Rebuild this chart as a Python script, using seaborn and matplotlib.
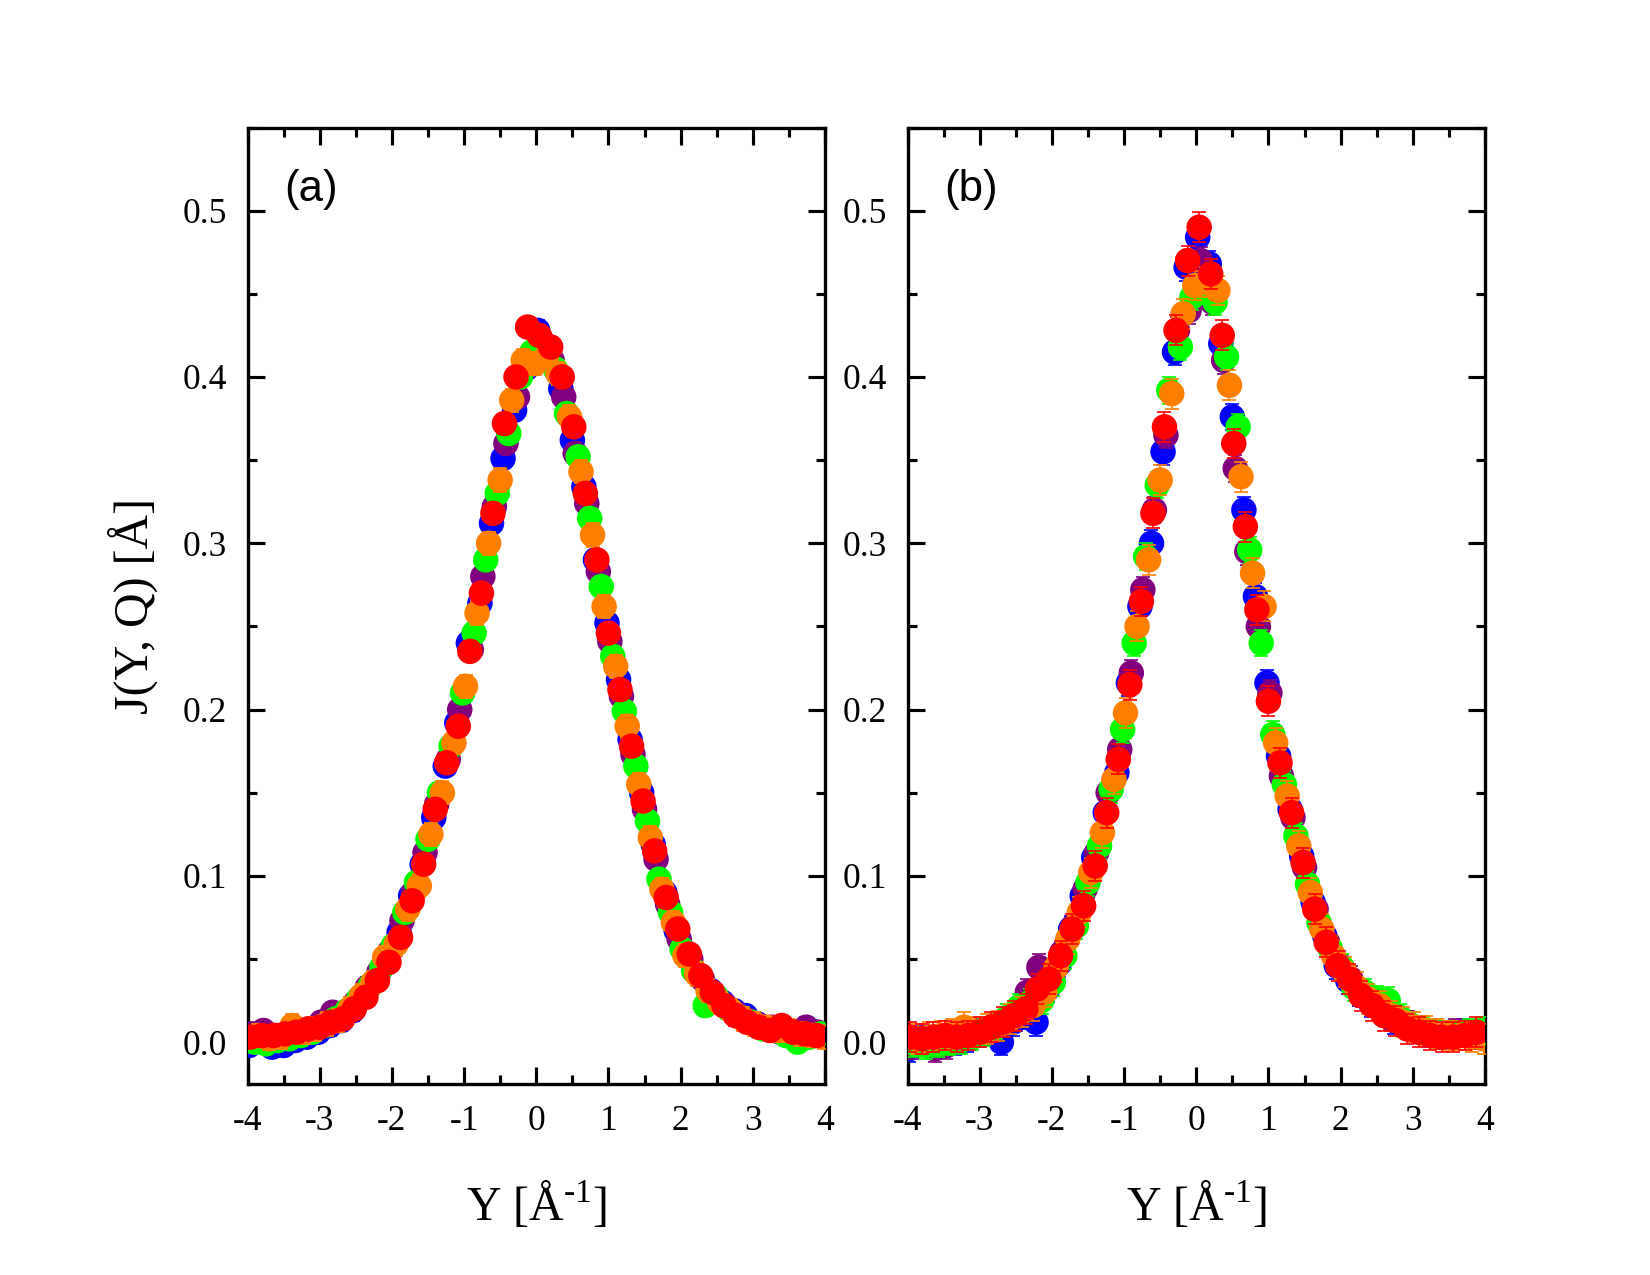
import numpy as np
import pandas as pd
import matplotlib
matplotlib.use("Agg")
import matplotlib.pyplot as plt
from matplotlib.ticker import MultipleLocator, FormatStrFormatter
import seaborn as sns

# series order / colours (red drawn last, on top)
series_names = ["blue", "purple", "green", "orange", "red"]
series_colors = ["#0000FF", "#800080", "#00FF00", "#FF8000", "#FF0000"]

# Y grids of the five series (same in both panels)
x_blue = [-3.98, -3.82, -3.66, -3.50, -3.34, -3.18, -3.02, -2.86, -2.70, -2.54,
          -2.38, -2.22, -2.06, -1.90, -1.74, -1.58, -1.42, -1.26, -1.10, -0.94,
          -0.78, -0.62, -0.46, -0.30, -0.14, 0.02, 0.18, 0.34, 0.50, 0.66,
          0.82, 0.98, 1.14, 1.30, 1.46, 1.62, 1.78, 1.94, 2.10, 2.26,
          2.42, 2.58, 2.74, 2.90, 3.06, 3.22, 3.38, 3.54, 3.70, 3.86]
x_purple = [-3.94, -3.78, -3.62, -3.46, -3.30, -3.14, -2.98, -2.82, -2.66, -2.50,
            -2.34, -2.18, -2.02, -1.86, -1.70, -1.54, -1.38, -1.22, -1.06, -0.90,
            -0.74, -0.58, -0.42, -0.26, -0.10, 0.06, 0.22, 0.38, 0.54, 0.70,
            0.86, 1.02, 1.18, 1.34, 1.50, 1.66, 1.82, 1.98, 2.14, 2.30,
            2.46, 2.62, 2.78, 2.94, 3.10, 3.26, 3.42, 3.58, 3.74, 3.90]
x_green = [-3.90, -3.74, -3.58, -3.42, -3.26, -3.10, -2.94, -2.78, -2.62, -2.46,
           -2.30, -2.14, -1.98, -1.82, -1.66, -1.50, -1.34, -1.18, -1.02, -0.86,
           -0.70, -0.54, -0.38, -0.22, -0.06, 0.10, 0.26, 0.42, 0.58, 0.74,
           0.90, 1.06, 1.22, 1.38, 1.54, 1.70, 1.86, 2.02, 2.18, 2.34,
           2.50, 2.66, 2.82, 2.98, 3.14, 3.30, 3.46, 3.62, 3.78, 3.94]
x_orange = [-3.86, -3.70, -3.54, -3.38, -3.22, -3.06, -2.90, -2.74, -2.58, -2.42,
            -2.26, -2.10, -1.94, -1.78, -1.62, -1.46, -1.30, -1.14, -0.98, -0.82,
            -0.66, -0.50, -0.34, -0.18, -0.02, 0.14, 0.30, 0.46, 0.62, 0.78,
            0.94, 1.10, 1.26, 1.42, 1.58, 1.74, 1.90, 2.06, 2.22, 2.38,
            2.54, 2.70, 2.86, 3.02, 3.18, 3.34, 3.50, 3.66, 3.82, 3.98]
x_red = [-3.96, -3.80, -3.64, -3.48, -3.32, -3.16, -3.00, -2.84, -2.68, -2.52,
         -2.36, -2.20, -2.04, -1.88, -1.72, -1.56, -1.40, -1.24, -1.08, -0.92,
         -0.76, -0.60, -0.44, -0.28, -0.12, 0.04, 0.20, 0.36, 0.52, 0.68,
         0.84, 1.00, 1.16, 1.32, 1.48, 1.64, 1.80, 1.96, 2.12, 2.28,
         2.44, 2.60, 2.76, 2.92, 3.08, 3.24, 3.40, 3.56, 3.72, 3.88]

# panel (a) J(Y,Q)
ja_blue = [-0.002, 0.001, -0.003, -0.002, 0.001, 0.003, 0.006, 0.010, 0.013, 0.019,
           0.028, 0.037, 0.048, 0.066, 0.088, 0.107, 0.135, 0.166, 0.192, 0.240,
           0.264, 0.312, 0.351, 0.380, 0.405, 0.428, 0.415, 0.393, 0.362, 0.334,
           0.290, 0.252, 0.218, 0.182, 0.150, 0.119, 0.090, 0.067, 0.052, 0.040,
           0.031, 0.024, 0.019, 0.016, 0.011, 0.008, 0.006, 0.005, 0.007, 0.006]
ja_purple = [0.005, 0.007, 0.004, 0.003, 0.005, 0.008, 0.012, 0.018, 0.017, 0.024,
             0.033, 0.042, 0.055, 0.073, 0.090, 0.114, 0.143, 0.170, 0.200, 0.236,
             0.280, 0.322, 0.360, 0.388, 0.412, 0.423, 0.410, 0.388, 0.354, 0.324,
             0.283, 0.241, 0.208, 0.173, 0.140, 0.110, 0.083, 0.062, 0.050, 0.038,
             0.029, 0.022, 0.017, 0.013, 0.010, 0.009, 0.008, 0.005, 0.009, 0.006]
ja_green = [0.000, -0.001, 0.001, 0.002, 0.004, 0.006, 0.010, 0.014, 0.019, 0.026,
            0.034, 0.045, 0.058, 0.078, 0.096, 0.122, 0.150, 0.178, 0.210, 0.246,
            0.290, 0.330, 0.366, 0.400, 0.415, 0.410, 0.405, 0.378, 0.352, 0.315,
            0.274, 0.232, 0.199, 0.166, 0.133, 0.098, 0.078, 0.056, 0.043, 0.022,
            0.027, 0.020, 0.015, 0.012, 0.008, 0.007, 0.004, 0.000, 0.003, 0.005]
ja_orange = [0.004, 0.002, 0.003, 0.010, 0.006, 0.008, 0.011, 0.013, 0.020, 0.028,
             0.036, 0.051, 0.059, 0.080, 0.094, 0.125, 0.150, 0.180, 0.214, 0.258,
             0.300, 0.338, 0.386, 0.410, 0.408, 0.412, 0.402, 0.376, 0.343, 0.305,
             0.262, 0.226, 0.190, 0.155, 0.123, 0.092, 0.072, 0.052, 0.041, 0.031,
             0.024, 0.019, 0.014, 0.011, 0.009, 0.007, 0.007, 0.005, 0.004, 0.003]
ja_red = [0.003, 0.004, 0.004, 0.005, 0.006, 0.008, 0.009, 0.012, 0.014, 0.020,
          0.027, 0.037, 0.048, 0.063, 0.085, 0.107, 0.140, 0.168, 0.190, 0.235,
          0.270, 0.318, 0.372, 0.400, 0.430, 0.425, 0.418, 0.400, 0.370, 0.330,
          0.290, 0.246, 0.212, 0.178, 0.145, 0.115, 0.087, 0.068, 0.053, 0.040,
          0.030, 0.022, 0.016, 0.012, 0.009, 0.007, 0.010, 0.006, 0.005, 0.004]

# panel (b) J(Y,Q)
jb_blue = [-0.004, 0.002, 0.001, -0.001, 0.000, 0.002, 0.005, 0.006, 0.000, 0.012,
           0.016, 0.012, 0.032, 0.047, 0.068, 0.088, 0.111, 0.138, 0.162, 0.216,
           0.262, 0.300, 0.355, 0.415, 0.466, 0.484, 0.468, 0.420, 0.376, 0.320,
           0.268, 0.216, 0.172, 0.140, 0.112, 0.084, 0.064, 0.046, 0.037, 0.030,
           0.023, 0.019, 0.013, 0.011, 0.008, 0.005, 0.004, 0.004, 0.006, 0.005]
jb_purple = [-0.002, 0.000, -0.004, -0.002, 0.001, 0.003, 0.006, 0.008, 0.011, 0.015,
             0.030, 0.045, 0.040, 0.054, 0.070, 0.092, 0.114, 0.150, 0.176, 0.222,
             0.272, 0.320, 0.365, 0.428, 0.440, 0.470, 0.445, 0.410, 0.345, 0.295,
             0.250, 0.210, 0.160, 0.135, 0.105, 0.080, 0.060, 0.047, 0.038, 0.029,
             0.024, 0.018, 0.014, 0.011, 0.008, 0.006, 0.005, 0.006, 0.005, 0.004]
jb_green = [-0.001, -0.002, -0.001, 0.000, 0.001, 0.003, 0.006, 0.010, 0.015, 0.021,
            0.024, 0.025, 0.036, 0.052, 0.070, 0.096, 0.118, 0.152, 0.188, 0.240,
            0.292, 0.335, 0.392, 0.418, 0.448, 0.452, 0.445, 0.412, 0.370, 0.296,
            0.240, 0.185, 0.155, 0.124, 0.095, 0.072, 0.056, 0.045, 0.033, 0.030,
            0.026, 0.025, 0.015, 0.010, 0.007, 0.006, 0.005, 0.005, 0.006, 0.007]
jb_orange = [0.002, 0.003, 0.004, 0.005, 0.009, 0.006, 0.008, 0.010, 0.014, 0.018,
             0.022, 0.030, 0.045, 0.062, 0.078, 0.102, 0.126, 0.158, 0.198, 0.250,
             0.290, 0.338, 0.390, 0.438, 0.455, 0.457, 0.452, 0.395, 0.340, 0.282,
             0.262, 0.180, 0.148, 0.118, 0.090, 0.068, 0.052, 0.042, 0.033, 0.026,
             0.022, 0.016, 0.012, 0.009, 0.007, 0.005, 0.004, 0.004, 0.003, 0.002]
jb_red = [0.003, 0.002, 0.003, 0.004, 0.003, 0.004, 0.006, 0.009, 0.012, 0.016,
          0.020, 0.032, 0.038, 0.052, 0.068, 0.082, 0.106, 0.138, 0.170, 0.215,
          0.265, 0.318, 0.370, 0.428, 0.470, 0.490, 0.462, 0.425, 0.360, 0.310,
          0.260, 0.205, 0.168, 0.138, 0.108, 0.080, 0.060, 0.046, 0.038, 0.028,
          0.022, 0.016, 0.013, 0.008, 0.006, 0.004, 0.003, 0.003, 0.004, 0.006]

# typical error bar half-heights per series
err_a = [0.006, 0.006, 0.006, 0.007, 0.006]
err_b = [0.008, 0.008, 0.008, 0.009, 0.009]

xs = [x_blue, x_purple, x_green, x_orange, x_red]
panels = [("(a)", [ja_blue, ja_purple, ja_green, ja_orange, ja_red], err_a),
          ("(b)", [jb_blue, jb_purple, jb_green, jb_orange, jb_red], err_b)]

sns.set_style("ticks")
plt.rcParams["font.family"] = ["Liberation Serif", "DejaVu Serif"]
plt.rcParams["axes.unicode_minus"] = False
plt.rcParams["mathtext.fontset"] = "custom"
plt.rcParams["mathtext.rm"] = "Liberation Serif"
for key in ["text.color", "axes.labelcolor", "xtick.color", "ytick.color", "axes.edgecolor"]:
    plt.rcParams[key] = "black"

fig = plt.figure(figsize=(11, 8.5), dpi=150)
lefts = [0.150, 0.550]

for k, (tag, ys, errs) in enumerate(panels):
    ax = fig.add_axes([lefts[k], 0.150, 0.350, 0.750])
    for i, name in enumerate(series_names):
        df = pd.DataFrame({"Y": xs[i], "J": ys[i]})
        ax.errorbar(df["Y"], df["J"], yerr=errs[i], fmt="none", ecolor=series_colors[i],
                    elinewidth=0.8, capsize=3.5, capthick=0.8, zorder=2 + 2 * i)
        sns.scatterplot(data=df, x="Y", y="J", ax=ax, color=series_colors[i], s=150,
                        edgecolor="none", linewidth=0, zorder=3 + 2 * i, legend=False)

    ax.set_xlim(-4, 4)
    ax.set_ylim(-0.025, 0.55)
    ax.xaxis.set_major_locator(MultipleLocator(1))
    ax.xaxis.set_minor_locator(MultipleLocator(0.5))
    ax.yaxis.set_major_locator(MultipleLocator(0.1))
    ax.yaxis.set_minor_locator(MultipleLocator(0.05))
    ax.yaxis.set_major_formatter(FormatStrFormatter("%.1f"))
    ax.tick_params(which="both", direction="in", top=True, right=True, width=1.5,
                   labelsize=17, pad=10, colors="black")
    ax.tick_params(which="major", length=8)
    ax.tick_params(which="minor", length=4.5)
    for sp in ax.spines.values():
        sp.set_linewidth(1.6)
        sp.set_color("black")

    ax.set_xlabel("Y [\u00c5$^{\\text{-1}}$]", fontsize=23)
    ax.xaxis.set_label_coords(0.5, -0.10)
    if k == 0:
        ax.set_ylabel("J(Y, Q) [\u00c5]", fontsize=23)
        ax.yaxis.set_label_coords(-0.155, 0.5)
    else:
        ax.set_ylabel("")
    ax.text(0.11, 0.935, tag, transform=ax.transAxes, fontsize=21,
            family=["Liberation Sans", "DejaVu Sans"], ha="center", va="center")

fig.savefig("out.png", dpi=150)
